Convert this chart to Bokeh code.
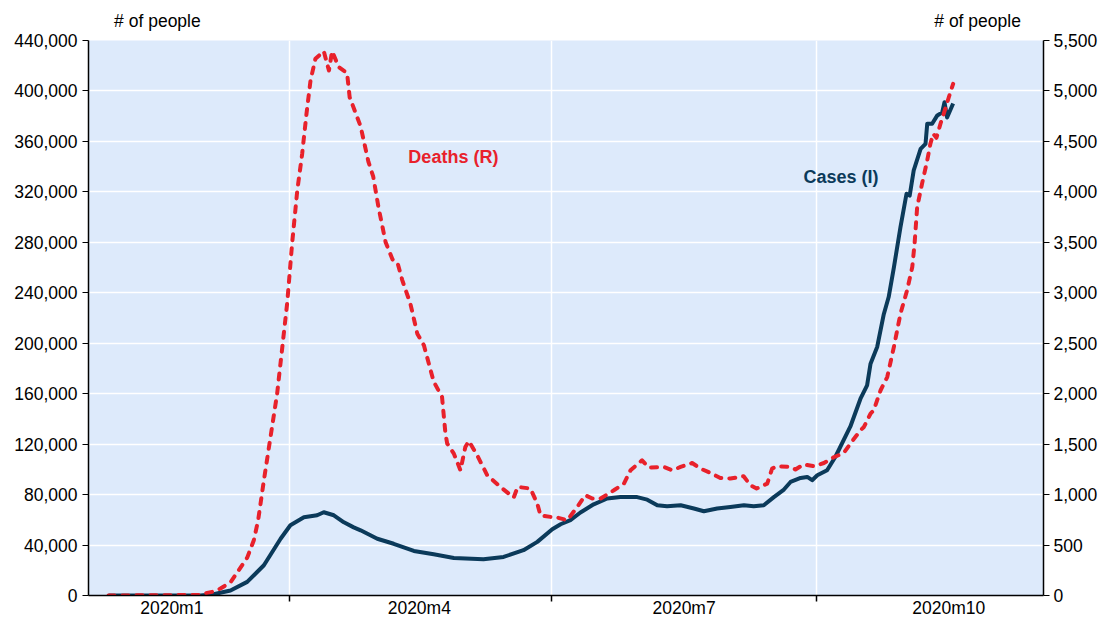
from bokeh.plotting import figure
from bokeh.models import Range1d, LinearAxis, FixedTicker, NumeralTickFormatter, Label
from bokeh.embed import file_html
from bokeh.resources import INLINE

# x values are day-of-year 2020 (1 Jan = 0)
quarter_labels = ["2020m1", "2020m4", "2020m7", "2020m10"]
quarter_label_pos = [50, 136, 228, 320]
quarter_bounds = [91, 182, 274]
unit_label = "# of people"
unit_label_pos = [45, 330]

cases_day = [28.0, 60.0, 64.5, 70.4, 76.2, 82.0, 87.8, 91.2, 95.9, 100.5, 102.8, 106.3, 109.8,
             113.2, 115.6, 121.4, 127.1, 134.1, 141.0, 148.0, 158.3, 165.3, 172.2, 177.0,
             182.2, 185.1, 188.5, 192.0, 196.6, 201.3, 205.9, 211.7, 215.2, 218.7, 222.1,
             226.8, 231.4, 234.9, 239.5, 244.1, 248.8, 252.2, 255.7, 259.2, 262.7, 265.0,
             268.5, 270.8, 272.5, 274.3, 277.7, 280.6, 285.8, 289.3, 291.6, 292.8, 295.1,
             297.4, 299.1, 300.9, 303.2, 305.3, 306.4, 307.8, 310.2, 311.9, 312.5, 314.2,
             316.0, 317.7, 318.5, 319.4, 321.5]
cases = [0, 0, 1000, 4000, 10800, 24000, 45000, 55700, 62000, 63600, 66000, 63600, 58000,
         54000, 51700, 45000, 41000, 35300, 32700, 29800, 28800, 30600, 35900, 42500,
         52500, 56500, 59700, 65800, 72300, 76900, 78000, 78000, 76000, 71500, 70700,
         71500, 69000, 66800, 69000, 70200, 71500, 70700, 71500, 78000, 84000, 90000,
         93200, 94000, 91400, 95300, 99300, 110000, 134000, 156000, 166600, 183800, 197000,
         223000, 236600, 260000, 292000, 318500, 317000, 337000, 354000, 358000, 374000, 374000,
         380600, 383000, 391000, 379000, 390000]

deaths_day = [28.0, 60.0, 62.3, 64.6, 66.9, 70.4, 76.2, 78.5, 80.0, 82.0, 84.3, 86.6, 88.4,
              90.1, 91.8, 93.6, 95.3, 96.8, 98.2, 99.9, 102.8, 104.6, 105.7, 108.0, 110.9,
              111.8, 115.6, 118.3, 120.0, 121.8, 124.3, 126.7, 128.4, 130.1, 132.9, 135.3,
              137.6, 141.0, 143.9, 145.1, 145.7, 148.0, 150.3, 152.0, 153.2, 156.1, 159.6,
              164.2, 168.8, 170.2, 174.6, 177.0, 178.1, 181.6, 183.9, 187.4, 190.9, 193.7,
              196.1, 199.0, 203.6, 207.1, 209.4, 213.4, 215.7, 221.0, 223.9, 226.8, 230.8,
              233.7, 237.2, 240.6, 244.1, 248.7, 251.1, 253.2, 256.9, 258.6, 260.4, 265.0,
              266.7, 269.6, 273.1, 276.6, 280.0, 283.5, 285.8, 289.3, 290.5, 292.8, 293.9,
              296.3, 298.6, 300.9, 303.2, 305.5, 307.3, 308.1, 309.0, 310.7, 312.5, 313.6,
              314.6, 315.7, 317.1, 318.8, 320.0, 321.5]
deaths = [0, 5, 26, 40, 69, 130, 375, 548, 746, 1142, 1571, 2001, 2462,
          2900, 3487, 4015, 4378, 4774, 5104, 5319, 5394, 5203, 5394, 5236, 5176,
          4938, 4650, 4300, 4150, 3850, 3500, 3330, 3300, 3123, 2892, 2595,
          2479, 2120, 1967, 1600, 1506, 1406, 1241, 1472, 1531, 1390, 1192,
          1076, 971, 1076, 1060, 911, 795, 779, 773, 746, 878, 993,
          961, 961, 1043, 1109, 1241, 1340, 1268, 1274, 1241, 1274, 1313,
          1258, 1214, 1165, 1159, 1182, 1092, 1060, 1109, 1258, 1281, 1274,
          1248, 1300, 1281, 1313, 1370, 1412, 1506, 1637, 1670, 1803, 1835,
          2034, 2165, 2462, 2793, 3024, 3255, 3487, 3849, 4081, 4312, 4477,
          4576, 4536, 4675, 4824, 4938, 5071]

FONT = "Liberation Sans"
FS = "17.5px"
BG = "#DDEAFB"
NAVY = "#0B3A5A"
RED = "#E8212B"

p = figure(width=1102, height=620, output_backend="svg", toolbar_location=None,
           x_range=Range1d(21.05, 352.9), y_range=Range1d(0, 440000),
           min_border_left=88, min_border_right=59, min_border_top=40, min_border_bottom=25)
p.extra_y_ranges = {"deaths": Range1d(0, 5500)}
p.background_fill_color = BG
p.border_fill_color = "white"
p.outline_line_color = None

# x axis
xa = p.xaxis[0]
xa.ticker = FixedTicker(ticks=quarter_label_pos, minor_ticks=quarter_bounds)
xa.major_label_overrides = {pos: lab for pos, lab in zip(quarter_label_pos, quarter_labels)}
xa.major_tick_out = 0
xa.major_tick_in = 0
xa.minor_tick_out = 6
xa.minor_tick_in = 0
xa.minor_tick_line_color = "black"
xa.minor_tick_line_width = 1.5
xa.axis_line_color = "black"
xa.axis_line_width = 1.5
xa.major_label_standoff = -4
xa.major_label_text_font = FONT
xa.major_label_text_font_size = FS
xa.major_label_text_color = "black"

# top axis carrying the unit labels
ta = LinearAxis(ticker=FixedTicker(ticks=unit_label_pos, minor_ticks=[]))
ta.major_label_overrides = {pos: unit_label for pos in unit_label_pos}
ta.axis_line_color = None
ta.major_tick_line_color = None
ta.minor_tick_line_color = None
ta.major_tick_out = 0
ta.major_tick_in = 0
ta.major_label_standoff = 10
ta.major_label_text_font = FONT
ta.major_label_text_font_size = FS
ta.major_label_text_color = "black"
p.add_layout(ta, "above")

# left y axis
ya = p.yaxis[0]
ya.ticker = FixedTicker(ticks=list(range(0, 440001, 40000)))
ya.formatter = NumeralTickFormatter(format="0,0")
ya.major_tick_out = 6
ya.major_tick_in = 0
ya.minor_tick_line_color = None
ya.axis_line_color = "black"
ya.axis_line_width = 1.5
ya.major_label_standoff = 5
ya.major_label_text_font = FONT
ya.major_label_text_font_size = FS
ya.major_label_text_color = "black"

# right y axis
ra = LinearAxis(y_range_name="deaths",
                ticker=FixedTicker(ticks=list(range(0, 5501, 500))),
                formatter=NumeralTickFormatter(format="0,0"))
ra.major_tick_out = 6
ra.major_tick_in = 0
ra.minor_tick_line_color = None
ra.axis_line_color = "black"
ra.axis_line_width = 1.5
ra.major_label_standoff = 4
ra.major_label_text_font = FONT
ra.major_label_text_font_size = FS
ra.major_label_text_color = "black"
p.add_layout(ra, "right")

# grids
p.ygrid.grid_line_color = "white"
p.ygrid.grid_line_width = 1.5
p.xgrid.ticker = FixedTicker(ticks=quarter_bounds)
p.xgrid.grid_line_color = "white"
p.xgrid.grid_line_width = 1.5

# series
p.line(cases_day, cases, line_color=NAVY, line_width=4, line_join="round")
p.line(deaths_day, deaths, y_range_name="deaths", line_color=RED, line_width=4,
       line_dash="6 8", line_cap="round", line_join="round")

# in-plot labels
p.add_layout(Label(x=132.2, y=347300, text="Deaths (R)", text_color=RED,
                   text_font=FONT, text_font_size="18px", text_font_style="bold",
                   text_baseline="middle", text_align="left"))
p.add_layout(Label(x=269.5, y=331500, text="Cases (I)", text_color=NAVY,
                   text_font=FONT, text_font_size="18px", text_font_style="bold",
                   text_baseline="middle", text_align="left"))

open("out.html", "w").write(file_html(p, INLINE))
